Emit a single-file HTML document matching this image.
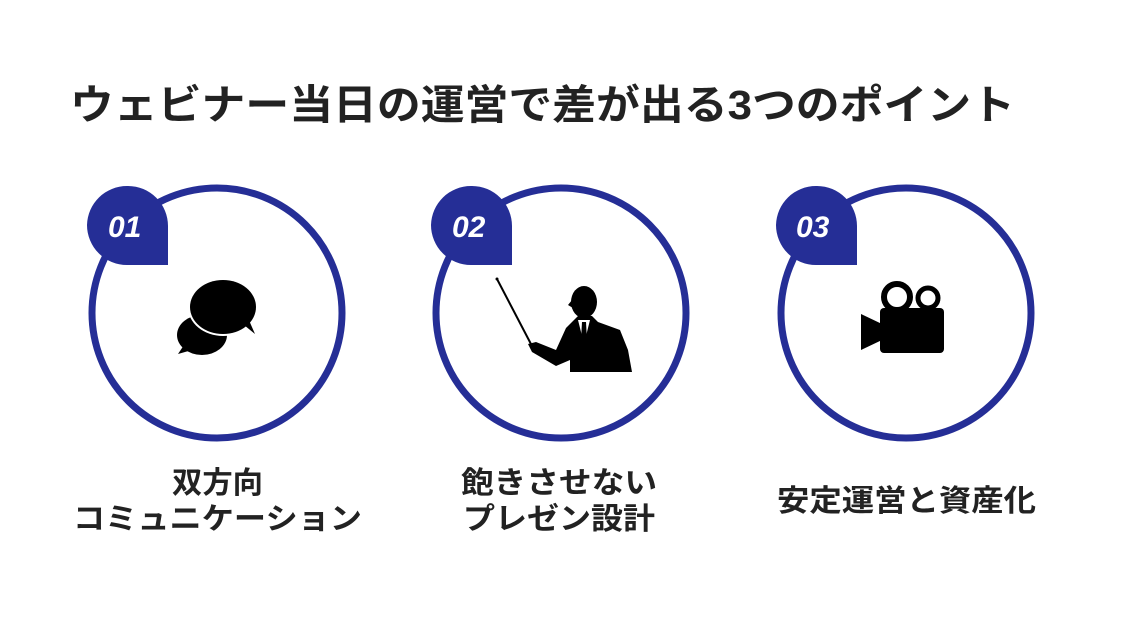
<!DOCTYPE html>
<html><head><meta charset="utf-8"><style>
body{margin:0;background:#fff;}
svg{display:block}
text{font-family:"Liberation Sans","Noto Sans CJK JP",sans-serif;font-weight:700;fill:#222;}
</style></head><body>
<svg width="1123" height="637" viewBox="0 0 1123 637" xmlns="http://www.w3.org/2000/svg">
<text x="70" y="119" font-size="41" textLength="945" lengthAdjust="spacingAndGlyphs">ウェビナー当日の運営で差が出る3つのポイント</text>
<g fill="none" stroke="#252e96" stroke-width="7">
<circle cx="217" cy="313" r="125"/>
<circle cx="561" cy="313" r="125"/>
<circle cx="906" cy="313" r="125"/>
</g>
<g fill="#252e96">
<path d="M127 186 H128 A40 40 0 0 1 168 226 V265 H127 A40 40 0 0 1 87 225 A40 40 0 0 1 127 186Z"/>
<path d="M471 186 H472 A40 40 0 0 1 512 226 V265 H471 A40 40 0 0 1 431 225 A40 40 0 0 1 471 186Z"/>
<path d="M816 186 H817 A40 40 0 0 1 857 226 V265 H816 A40 40 0 0 1 776 225 A40 40 0 0 1 816 186Z"/>
</g>
<g font-size="30" font-style="italic">
<text x="108" y="237" style="fill:#fff">01</text>
<text x="452" y="237" style="fill:#fff">02</text>
<text x="796" y="237" style="fill:#fff">03</text>
</g>
<!-- chat -->
<ellipse cx="202" cy="335" rx="25" ry="20" fill="#000"/>
<path d="M184 345 L178 354 L192 350Z" fill="#000"/>
<ellipse cx="223" cy="307" rx="35" ry="29" fill="#fff"/>
<ellipse cx="223" cy="307" rx="33" ry="27" fill="#000"/>
<path d="M244 325 L255 334 L248 318Z" fill="#000"/>
<!-- presenter -->
<line x1="497" y1="279" x2="532" y2="346" stroke="#000" stroke-width="2"/>
<circle cx="497" cy="279" r="1.5" fill="#000"/>
<ellipse cx="584" cy="302" rx="13" ry="16" fill="#000"/>
<path d="M572 300 L568 305 L573 308Z" fill="#000"/>
<path d="M578 316 L592 316 L598 322 L620 330 L628 350 L632 372 L570 372 L570 360 L556 366 L532 352 L528 344 L536 342 L556 350 L566 328 Z" fill="#000"/>
<path d="M578 320 L590 320 L586 336 L582 336Z" fill="#fff"/>
<path d="M582 322 L586 322 L587 340 L584 344 L581 340Z" fill="#000"/>
<!-- camera -->
<circle cx="897" cy="297" r="13" fill="none" stroke="#000" stroke-width="6"/>
<circle cx="928" cy="298" r="10" fill="none" stroke="#000" stroke-width="5"/>
<rect x="880" y="308" width="64" height="45" rx="4" fill="#000"/>
<path d="M861 314 L882 324 L882 340 L861 350Z" fill="#000"/>
<g font-size="30">
<text x="172" y="493" textLength="91" lengthAdjust="spacingAndGlyphs">双方向</text>
<text x="73" y="529" textLength="289" lengthAdjust="spacingAndGlyphs">コミュニケーション</text>
<text x="461" y="493" textLength="196" lengthAdjust="spacingAndGlyphs">飽きさせない</text>
<text x="463" y="529" textLength="192" lengthAdjust="spacingAndGlyphs">プレゼン設計</text>
<text x="777" y="511" textLength="259" lengthAdjust="spacingAndGlyphs">安定運営と資産化</text>
</g>
</svg>
</body></html>
